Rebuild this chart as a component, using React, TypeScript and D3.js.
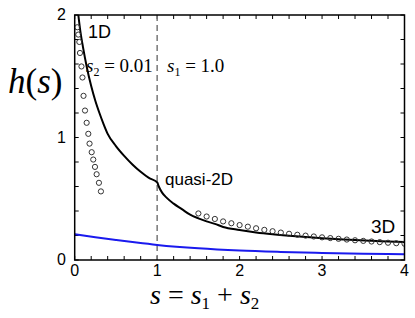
import React from "react"
import * as d3 from "d3"

// black theory curve h(s)
const curveS = [0.044, 0.07, 0.1, 0.145, 0.2, 0.25, 0.3, 0.35, 0.4, 0.5, 0.6, 0.7, 0.8, 0.9, 1.0,
  1.02, 1.06, 1.12, 1.2, 1.3, 1.4, 1.5, 1.6, 1.7, 1.8, 2.0, 2.2, 2.4, 2.6, 2.8, 3.0, 3.2, 3.4, 3.6, 3.8, 4.0]
const curveH = [2.0, 1.86, 1.74, 1.58, 1.42, 1.3, 1.2, 1.11, 1.03, 0.93, 0.85, 0.78, 0.72, 0.67, 0.635,
  0.6, 0.55, 0.505, 0.46, 0.415, 0.37, 0.34, 0.315, 0.295, 0.27, 0.245, 0.225, 0.21, 0.198, 0.188, 0.178, 0.17, 0.163, 0.157, 0.152, 0.147]

// blue curve
const blueS = [0, 0.25, 0.5, 0.75, 1.0, 1.5, 2.0, 2.5, 3.0, 3.5, 4.0]
const blueH = [0.21, 0.185, 0.163, 0.142, 0.123, 0.095, 0.077, 0.066, 0.058, 0.052, 0.047]

// 1D circles
const dots1S = [0.031, 0.044, 0.056, 0.064, 0.082, 0.094, 0.107, 0.125, 0.145, 0.165, 0.18, 0.206, 0.225, 0.246, 0.266, 0.294, 0.318]
const dots1H = [1.9, 1.84, 1.78, 1.69, 1.58, 1.49, 1.34, 1.22, 1.12, 1.03, 0.95, 0.88, 0.82, 0.76, 0.7, 0.63, 0.56]

// 3D circles
const dots3S = [1.5, 1.6, 1.7, 1.8, 1.9, 2.0, 2.1, 2.2, 2.3, 2.4, 2.5, 2.6, 2.7, 2.8, 2.9, 3.0, 3.1, 3.2, 3.3, 3.4, 3.5, 3.6, 3.7, 3.8, 3.9, 4.0]
const dots3H = [0.38, 0.355, 0.335, 0.315, 0.3, 0.285, 0.272, 0.259, 0.246, 0.235, 0.224, 0.214, 0.206, 0.199, 0.192, 0.185,
  0.179, 0.173, 0.167, 0.161, 0.156, 0.151, 0.146, 0.141, 0.137, 0.133]

const xTicks = [0, 1, 2, 3, 4]
const yTicks = [0, 1, 2]

const W = 415
const H = 318

const sans = "Liberation Sans"
const serif = "Liberation Serif"

export default function App() {
  const x = d3.scaleLinear().domain([0, 4]).range([74.7, 404.5])
  const y = d3.scaleLinear().domain([0, 2]).range([260, 15])

  const line = d3.line<[number, number]>()
    .x(d => x(d[0]))
    .y(d => y(d[1]))
    .curve(d3.curveMonotoneX)

  const black = curveS.map((s, i) => [s, curveH[i]] as [number, number])
  const blue = blueS.map((s, i) => [s, blueH[i]] as [number, number])
  const dots = [
    ...dots1S.map((s, i) => [s, dots1H[i]]),
    ...dots3S.map((s, i) => [s, dots3H[i]]),
  ]

  const minorX = d3.range(0, 4.001, 0.2)
  const minorY = d3.range(0, 2.001, 0.2)
  const tl = 4

  return (
    <svg width={W} height={H} style={{ position: "absolute", left: 0, top: 0 }}>
      <rect width={W} height={H} fill="#fff" />
      <defs>
        <clipPath id="plot">
          <rect x={x(0)} y={y(2)} width={x(4) - x(0)} height={y(0) - y(2)} />
        </clipPath>
      </defs>

      {/* ticks */}
      {minorX.map((t, i) => (
        <g key={"tx" + i} stroke="#000" strokeWidth={1}>
          <line x1={x(t)} x2={x(t)} y1={y(0)} y2={y(0) - tl} />
          <line x1={x(t)} x2={x(t)} y1={y(2)} y2={y(2) + tl} />
        </g>
      ))}
      {minorY.map((t, i) => (
        <g key={"ty" + i} stroke="#000" strokeWidth={1}>
          <line x1={x(0)} x2={x(0) + tl} y1={y(t)} y2={y(t)} />
          <line x1={x(4)} x2={x(4) - tl} y1={y(t)} y2={y(t)} />
        </g>
      ))}

      {/* dashed divider */}
      <line x1={x(1)} x2={x(1)} y1={y(2)} y2={y(0)} stroke="#777" strokeWidth={1.5} strokeDasharray="6,4" />

      <g clipPath="url(#plot)">
        <path d={line(blue) || ""} fill="none" stroke="#1a1aee" strokeWidth={2} />
        <path d={line(black) || ""} fill="none" stroke="#000" strokeWidth={2} />
        {dots.map((d, i) => (
          <circle key={i} cx={x(d[0])} cy={y(d[1])} r={2.6} fill="none" stroke="#333" strokeWidth={1} />
        ))}
      </g>

      <rect x={x(0)} y={y(2)} width={x(4) - x(0)} height={y(0) - y(2)} fill="none" stroke="#000" strokeWidth={1.5} />

      {/* tick labels */}
      {xTicks.map(t => (
        <text key={"xl" + t} x={x(t)} y={276} textAnchor="middle" style={{ fontFamily: sans }} fontSize={16}>{t}</text>
      ))}
      {yTicks.map(t => (
        <text key={"yl" + t} x={66} y={y(t) + 5} textAnchor="end" style={{ fontFamily: sans }} fontSize={16}>{t}</text>
      ))}

      {/* annotations */}
      <text x={88} y={38} style={{ fontFamily: sans }} fontSize={18}>1D</text>
      <text x={165} y={185} style={{ fontFamily: sans }} fontSize={17}>quasi-2D</text>
      <text x={371} y={233} style={{ fontFamily: sans }} fontSize={19}>3D</text>
      <text x={86} y={72} style={{ fontFamily: serif }} fontSize={19}>
        <tspan fontStyle="italic">s</tspan><tspan fontSize={12} dy={4}>2</tspan><tspan dy={-4}> = 0.01</tspan>
      </text>
      <text x={167} y={72} style={{ fontFamily: serif }} fontSize={19}>
        <tspan fontStyle="italic">s</tspan><tspan fontSize={12} dy={4}>1</tspan><tspan dy={-4}> = 1.0</tspan>
      </text>

      {/* axis titles */}
      <text x={8} y={93} style={{ fontFamily: serif }} fontSize={35}>
        <tspan fontStyle="italic">h</tspan>(<tspan fontStyle="italic">s</tspan>)
      </text>
      <text x={150} y={304} style={{ fontFamily: serif }} fontSize={28}>
        <tspan fontStyle="italic">s</tspan> = <tspan fontStyle="italic">s</tspan><tspan fontSize={17} dy={5}>1</tspan><tspan dy={-5}> + </tspan><tspan fontStyle="italic">s</tspan><tspan fontSize={17} dy={5}>2</tspan>
      </text>
    </svg>
  )
}
